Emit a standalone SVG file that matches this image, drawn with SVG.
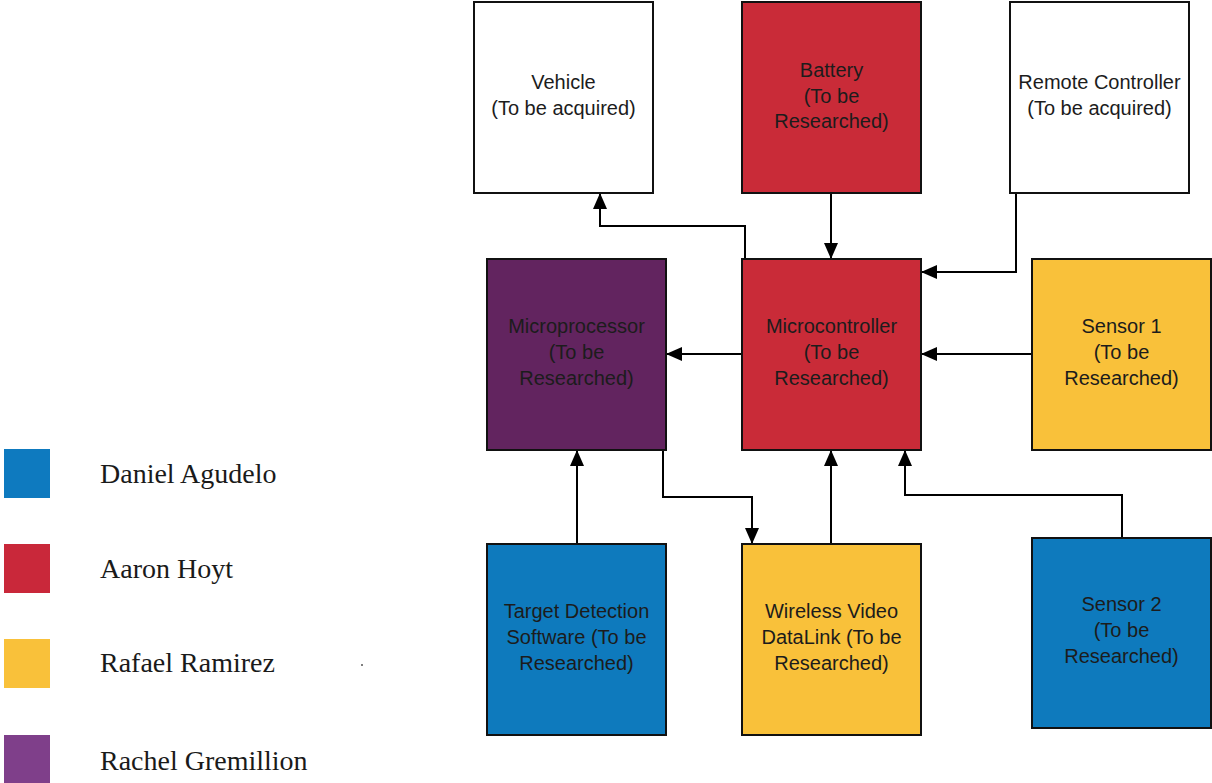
<svg xmlns="http://www.w3.org/2000/svg" width="1212" height="783" viewBox="0 0 1212 783">
<style>
.box{stroke:#111;stroke-width:2}
.lbl{font-family:"Liberation Sans",Arial,sans-serif;font-size:20px;fill:#1c1c1c;text-anchor:middle}
.leg{font-family:"Liberation Serif","Times New Roman",serif;font-size:28px;fill:#1a1a1a}
.con{fill:none;stroke:#000;stroke-width:2;marker-end:url(#ah)}
.white{fill:#fff}.red{fill:#c92b38}.yellow{fill:#f9c13a}.blue{fill:#0e7abd}.purple{fill:#62245f}
</style>
<defs>
<marker id="ah" markerUnits="userSpaceOnUse" markerWidth="16" markerHeight="14" refX="16" refY="7" orient="auto" viewBox="0 0 16 14">
<path d="M0,0 L16,7 L0,14 z" fill="#000"/>
</marker>
</defs>
<rect width="1212" height="783" fill="#fff"/>
<g id="legend">
<rect x="4" y="449" width="46" height="49" fill="#0e7abf"/>
<text class="leg" x="100" y="483">Daniel Agudelo</text>
<rect x="4" y="544" width="46" height="49" fill="#c9283a"/>
<text class="leg" x="100" y="578">Aaron Hoyt</text>
<rect x="4" y="639" width="46" height="49" fill="#f9c13a"/>
<text class="leg" x="100" y="672">Rafael Ramirez</text>
<rect x="4" y="735" width="46" height="48" fill="#7f3f8a"/>
<text class="leg" x="100" y="770">Rachel Gremillion</text>
<circle cx="362" cy="665" r="1" fill="#555"/>
</g>
<g id="connectors">
<path class="con" d="M745,259 V226 H600 V193"/>
<path class="con" d="M831,193 V259"/>
<path class="con" d="M1016,193 V272 H921"/>
<path class="con" d="M742,354 H666"/>
<path class="con" d="M1032,354 H921"/>
<path class="con" d="M577,544 V450"/>
<path class="con" d="M663,450 V497 H752 V544"/>
<path class="con" d="M831,544 V450"/>
<path class="con" d="M1122,538 V495 H905 V450"/>
</g>
<g id="vehicle">
<rect class="box white" x="474" y="2" width="179" height="191"/>
<text class="lbl" x="563.5" y="89">Vehicle</text>
<text class="lbl" x="563.5" y="115">(To be acquired)</text>
</g>
<g id="battery">
<rect class="box red" x="742" y="2" width="179" height="191"/>
<text class="lbl" x="831.5" y="77">Battery</text>
<text class="lbl" x="831.5" y="103">(To be</text>
<text class="lbl" x="831.5" y="128">Researched)</text>
</g>
<g id="remote">
<rect class="box white" x="1010" y="2" width="179" height="191"/>
<text class="lbl" x="1099.5" y="89">Remote Controller</text>
<text class="lbl" x="1099.5" y="115">(To be acquired)</text>
</g>
<g id="microprocessor">
<rect class="box purple" x="487" y="259" width="179" height="191"/>
<text class="lbl" x="576.5" y="333">Microprocessor</text>
<text class="lbl" x="576.5" y="359">(To be</text>
<text class="lbl" x="576.5" y="385">Researched)</text>
</g>
<g id="microcontroller">
<rect class="box red" x="742" y="259" width="179" height="191"/>
<text class="lbl" x="831.5" y="333">Microcontroller</text>
<text class="lbl" x="831.5" y="359">(To be</text>
<text class="lbl" x="831.5" y="385">Researched)</text>
</g>
<g id="sensor1">
<rect class="box yellow" x="1032" y="259" width="179" height="191"/>
<text class="lbl" x="1121.5" y="333">Sensor 1</text>
<text class="lbl" x="1121.5" y="359">(To be</text>
<text class="lbl" x="1121.5" y="385">Researched)</text>
</g>
<g id="target">
<rect class="box blue" x="487" y="544" width="179" height="191"/>
<text class="lbl" x="576.5" y="618">Target Detection</text>
<text class="lbl" x="576.5" y="644">Software (To be</text>
<text class="lbl" x="576.5" y="670">Researched)</text>
</g>
<g id="wireless">
<rect class="box yellow" x="742" y="544" width="179" height="191"/>
<text class="lbl" x="831.5" y="618">Wireless Video</text>
<text class="lbl" x="831.5" y="644">DataLink (To be</text>
<text class="lbl" x="831.5" y="670">Researched)</text>
</g>
<g id="sensor2">
<rect class="box blue" x="1032" y="538" width="179" height="190"/>
<text class="lbl" x="1121.5" y="611">Sensor 2</text>
<text class="lbl" x="1121.5" y="637">(To be</text>
<text class="lbl" x="1121.5" y="663">Researched)</text>
</g>
</svg>
